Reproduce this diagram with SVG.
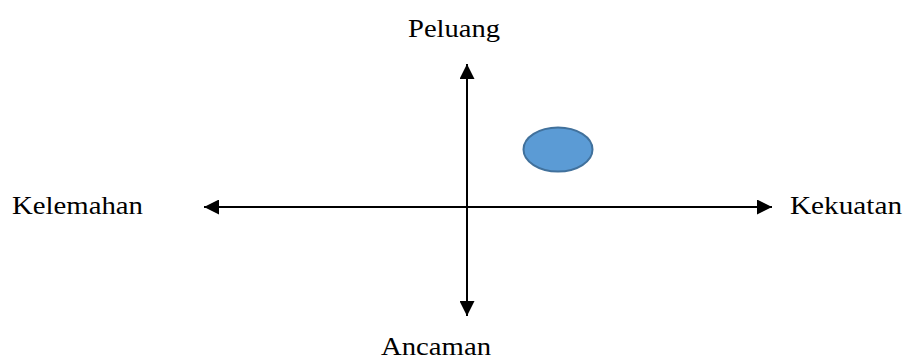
<svg xmlns="http://www.w3.org/2000/svg" width="904" height="360" viewBox="0 0 904 360">
<defs>
<style>
.lbl{font-family:"Liberation Serif","DejaVu Serif",serif;font-size:25px;fill:#000}
.ax{stroke:#000;stroke-width:2;fill:none}
</style>
<marker id="ah" viewBox="0 0 10 10" refX="10" refY="5" markerWidth="7.5" markerHeight="7.5" markerUnits="strokeWidth" orient="auto-start-reverse">
<path d="M0,0 L10,5 L0,10 Z" fill="#000"/>
</marker>
</defs>
<rect width="904" height="360" fill="#fff"/>
<g id="connectors">
<line class="ax" x1="467" y1="64" x2="467" y2="316" marker-start="url(#ah)" marker-end="url(#ah)"/>
<line class="ax" x1="204" y1="207" x2="772" y2="207" marker-start="url(#ah)" marker-end="url(#ah)"/>
</g>
<g id="peluang"><text class="lbl" x="408" y="37" textLength="92" lengthAdjust="spacingAndGlyphs">Peluang</text></g>
<g id="ancaman"><text class="lbl" x="381" y="355" textLength="110" lengthAdjust="spacingAndGlyphs">Ancaman</text></g>
<g id="kelemahan"><text class="lbl" x="12" y="214" textLength="131" lengthAdjust="spacingAndGlyphs">Kelemahan</text></g>
<g id="kekuatan"><text class="lbl" x="790" y="214" textLength="112" lengthAdjust="spacingAndGlyphs">Kekuatan</text></g>
<g id="posisi"><ellipse cx="558" cy="149.5" rx="34.5" ry="22" fill="#5B9BD5" stroke="#41719C" stroke-width="2"/></g>
</svg>
